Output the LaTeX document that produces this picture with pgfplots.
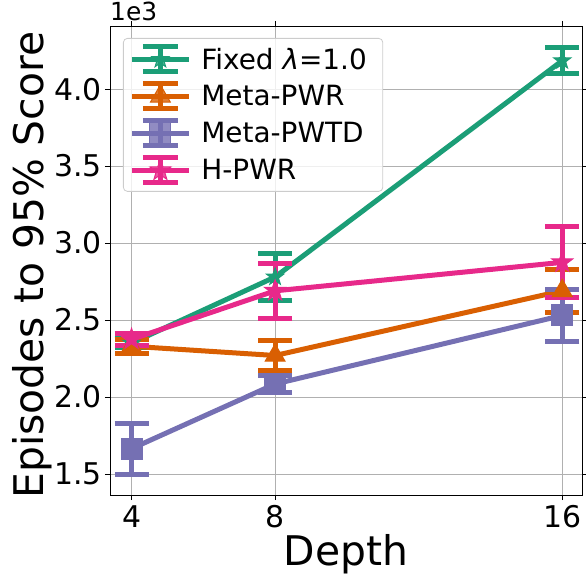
\documentclass[border=0pt]{standalone}
\usepackage{fontspec}
\setmainfont{DejaVu Sans}
\usepackage{pgfplots}
\pgfplotsset{compat=1.18}
\definecolor{cgreen}{HTML}{1B9E77}
\definecolor{corange}{HTML}{D95F02}
\definecolor{cpurple}{HTML}{7570B3}
\definecolor{cpink}{HTML}{E7298A}
\pgfdeclareplotmark{fstar}{%
  \pgfpathmoveto{\pgfpointpolar{90}{\pgfplotmarksize}}%
  \pgfpathlineto{\pgfpointpolar{126}{0.4\pgfplotmarksize}}%
  \pgfpathlineto{\pgfpointpolar{162}{\pgfplotmarksize}}%
  \pgfpathlineto{\pgfpointpolar{198}{0.4\pgfplotmarksize}}%
  \pgfpathlineto{\pgfpointpolar{234}{\pgfplotmarksize}}%
  \pgfpathlineto{\pgfpointpolar{270}{0.4\pgfplotmarksize}}%
  \pgfpathlineto{\pgfpointpolar{306}{\pgfplotmarksize}}%
  \pgfpathlineto{\pgfpointpolar{342}{0.4\pgfplotmarksize}}%
  \pgfpathlineto{\pgfpointpolar{18}{\pgfplotmarksize}}%
  \pgfpathlineto{\pgfpointpolar{54}{0.4\pgfplotmarksize}}%
  \pgfpathclose
  \pgfusepathqfillstroke
}
\pgfplotsset{
  ebl/.style={
    line width=5bp,
    legend image code/.code={
      \draw[##1, mark=none] (0bp,0bp) -- (57bp,0bp);
      \draw[##1, mark=none] (28.5bp,-12.5bp) -- (28.5bp,12.5bp);
      \draw[##1, mark=none] (11bp,-12.5bp) -- (46bp,-12.5bp);
      \draw[##1, mark=none] (11bp,12.5bp) -- (46bp,12.5bp);
      \draw[##1] plot coordinates {(28.5bp,0bp)};
    },
  }
}
\begin{document}
\begin{tikzpicture}
\begin{axis}[
  scale only axis,
  width=472bp, height=469bp,
  at={(0,0)}, anchor=south west,
  xmin=3.4, xmax=16.55,
  ymin=1364, ymax=4410,
  xtick={4,8,16},
  ytick={1500,2000,2500,3000,3500,4000},
  scaled y ticks=false,
  yticklabel={\pgfmathparse{\tick/1000}\pgfmathprintnumber[fixed,fixed zerofill,precision=1,assume math mode=true]{\pgfmathresult}},
  /pgf/number format/assume math mode=true,
  yticklabel style={anchor=east, inner sep=0pt, xshift=-3bp},
  xticklabel style={anchor=base, inner sep=0pt, yshift=-27bp},
  tick label style={font=\fontsize{30}{36}\selectfont},
  tick align=outside,
  major tick length=5bp,
  tick style={black, line width=0.8bp},
  axis line style={black, line width=0.8bp},
  grid=major,
  grid style={color=black!31, line width=0.8bp},
  xlabel={Depth},
  ylabel={Episodes to 95\% Score},
  label style={font=\fontsize{41}{48}\selectfont},
  xlabel style={at={(axis description cs:0.5,0)}, anchor=base, yshift=-70bp, inner sep=0pt},
  ylabel style={at={(axis description cs:0,0.49)}, anchor=center, yshift=78bp, inner sep=0pt},
  legend style={at={(axis description cs:0,1)}, anchor=north west, xshift=13bp, yshift=-12bp,
    font=\fontsize{28}{33}\selectfont, draw=black!20, line width=0.8bp, fill=white, fill opacity=0.8, text opacity=1,
    rounded corners=4bp, row sep=7bp, inner xsep=6bp, inner ysep=6bp,
    nodes={inner xsep=10bp}},
  legend cell align=left,
  error bars/y dir=both,
  error bars/y explicit,
  error bars/error bar style={line width=5bp},
  error bars/error mark options={rotate=90, mark size=17bp, line width=5bp},
]
\addplot[ebl, color=cgreen, mark=fstar, mark size=9bp, mark options={solid, fill=cgreen, line width=1bp}]
  coordinates {(4,2350) +- (0,30) (8,2780) +- (0,150) (16,4185) +- (0,85)};
\addlegendentry{Fixed \textit{λ}=1.0}
\addplot[ebl, color=corange, mark=triangle*, mark size=11.5bp, mark options={solid, fill=corange, line width=1bp}]
  coordinates {(4,2330) +- (0,47) (8,2270) +- (0,95) (16,2690) +- (0,140)};
\addlegendentry{Meta-PWR}
\addplot[ebl, color=cpurple, mark=square*, mark size=10.5bp, mark options={solid, fill=cpurple, line width=1bp}]
  coordinates {(4,1665) +- (0,165) (8,2085) +- (0,53) (16,2530) +- (0,170)};
\addlegendentry{Meta-PWTD}
\addplot[ebl, color=cpink, mark=fstar, mark size=11bp, mark options={solid, fill=cpink, line width=1bp}]
  coordinates {(4,2375) +- (0,40) (8,2690) +- (0,178) (16,2875) +- (0,230)};
\addlegendentry{H-PWR}
\end{axis}
\node[anchor=base west, inner sep=0pt, font=\fontsize{25}{30}\selectfont] at (0bp,474bp) {1e3};
\pgfresetboundingbox
\path[use as bounding box] (-110bp,-83bp) rectangle (476bp,495bp);
\end{tikzpicture}
\end{document}
